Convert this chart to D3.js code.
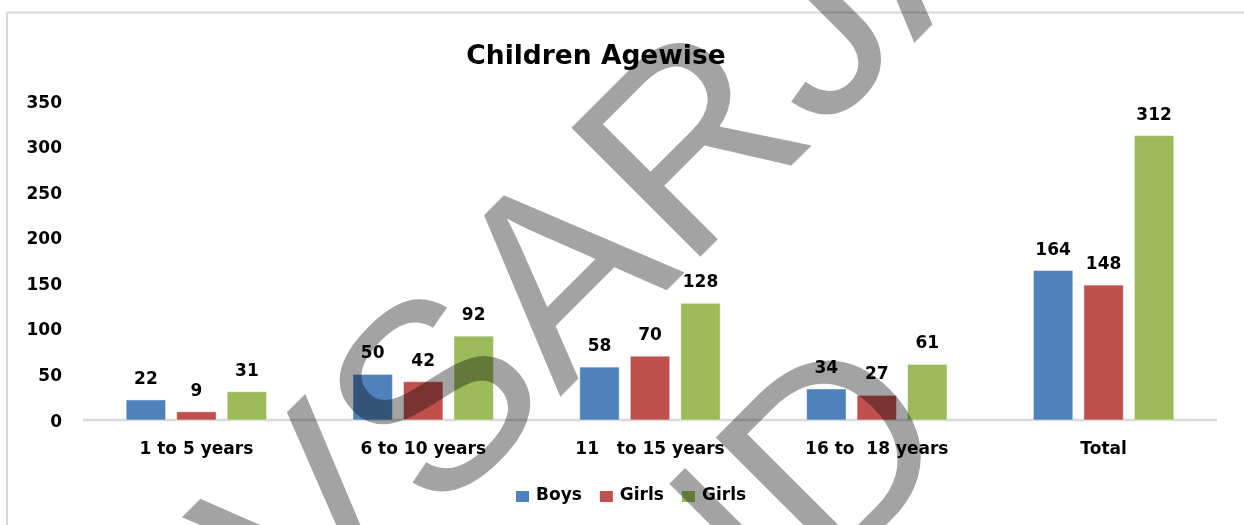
<!DOCTYPE html>
<html>
<head>
<meta charset="utf-8">
<script src="https://cdn.jsdelivr.net/npm/d3@7"></script>
<style>
  html, body { margin: 0; padding: 0; background: #fff; }
  svg text { font-family: "DejaVu Sans", sans-serif; font-weight: bold; fill: #000; white-space: pre; }
  .wm { font-family: "Liberation Sans", Arial, sans-serif; font-weight: normal; fill: #a3a3a3; mix-blend-mode: multiply; font-kerning: none; }
</style>
</head>
<body>
<div id="chart"></div>
<script>
// data
var categories = ["1 to 5 years", "6 to 10 years", "11   to 15 years", "16 to  18 years", "Total"];
var seriesNames = ["Boys", "Girls", "Girls"];
var boys = [22, 50, 58, 34, 164];
var girls = [9, 42, 70, 27, 148];
var third = [31, 92, 128, 61, 312]; // legend calls this one "Girls" too
var yTicks = [0, 50, 100, 150, 200, 250, 300, 350];
var colors = ["#4f81bd", "#c0504d", "#9bbb59"];
var title = "Children Agewise";
var watermark = ["VSARJA", "AND"];

//configuration
var config = {};
config.width = 1244;
config.height = 525;
config.left = 83;
config.right = 1217;
config.top = 101;
config.bottom = 420;
config.groupWidth = 151.5;

var svg = d3.select("#chart").append("svg")
    .attr("width", config.width)
    .attr("height", config.height);

//frame
svg.append("rect")
    .attr("x", 7).attr("y", 12.5)
    .attr("width", 1300).attr("height", 600)
    .attr("fill", "none")
    .attr("stroke", "#d9d9d9")
    .attr("stroke-width", 2);

//title
svg.append("text")
    .attr("x", 596).attr("y", 64)
    .attr("text-anchor", "middle")
    .style("font-size", "26.5px")
    .text(title);

//scales
var x0 = d3.scaleBand()
    .domain(categories)
    .range([config.left, config.right])
    .padding(0);

var x1 = d3.scaleBand()
    .domain([0, 1, 2])
    .range([(x0.bandwidth() - config.groupWidth) / 2, (x0.bandwidth() + config.groupWidth) / 2])
    .paddingInner(0.22)
    .paddingOuter(0.11);

var y = d3.scaleLinear()
    .domain([0, 350])
    .range([config.bottom, config.top]);

//y axis labels only
var yAxis = svg.append("g")
    .attr("transform", "translate(62,0)")
    .call(d3.axisLeft(y).tickValues(yTicks).tickSize(0).tickPadding(0));
yAxis.select(".domain").remove();
yAxis.selectAll("text")
    .attr("dy", "0.36em")
    .style("font-size", "17px")
    .style("font-family", null)
    .attr("fill", "#000");

//baseline
svg.append("line")
    .attr("x1", config.left).attr("x2", config.right)
    .attr("y1", y(0)).attr("y2", y(0))
    .attr("stroke", "#d9d9d9")
    .attr("stroke-width", 2.5);

//bars
var series = [boys, girls, third];
var groups = svg.selectAll("g.cat")
    .data(categories)
    .enter().append("g")
    .attr("class", "cat")
    .attr("transform", function(d){ return "translate(" + x0(d) + ",0)"; });

groups.each(function(cat, ci){
    var g = d3.select(this);
    var vals = series.map(function(s, si){ return {i: si, v: s[ci]}; });
    g.selectAll("rect")
        .data(vals)
        .enter().append("rect")
        .attr("x", function(d){ return x1(d.i); })
        .attr("y", function(d){ return y(d.v); })
        .attr("width", x1.bandwidth())
        .attr("height", function(d){ return y(0) - y(d.v); })
        .attr("fill", function(d){ return colors[d.i]; })
        .attr("stroke", "rgba(255,255,255,0.45)")
        .attr("stroke-width", 1);
    g.selectAll("text.val")
        .data(vals)
        .enter().append("text")
        .attr("class", "val")
        .attr("x", function(d){ return x1(d.i) + x1.bandwidth() / 2; })
        .attr("y", function(d){ return y(d.v) - 16; })
        .attr("text-anchor", "middle")
        .style("font-size", "17px")
        .text(function(d){ return d.v; });
});

//category labels
svg.selectAll("text.cat")
    .data(categories)
    .enter().append("text")
    .attr("class", "cat")
    .attr("x", function(d){ return x0(d) + x0.bandwidth() / 2; })
    .attr("y", 454)
    .attr("text-anchor", "middle")
    .style("font-size", "17px")
    .text(function(d){ return d; });

//legend
var legend = svg.append("g").attr("transform", "translate(516,0)");
var lx = 0;
seriesNames.forEach(function(name, i){
    legend.append("rect")
        .attr("x", lx).attr("y", 491)
        .attr("width", 13).attr("height", 11)
        .attr("fill", colors[i]);
    var t = legend.append("text")
        .attr("x", lx + 20).attr("y", 500)
        .style("font-size", "17px")
        .text(name);
    lx += 20 + t.node().getComputedTextLength() + 18;
});

//watermark on top, multiplied over the chart
var wm = svg.append("g").attr("class", "watermark");
var wmPos = [[310, 647], [569, 842]];
watermark.forEach(function(line, i){
    wm.append("text")
        .attr("class", "wm")
        .attr("transform", "translate(" + wmPos[i][0] + "," + wmPos[i][1] + ") rotate(-45)")
        .style("font-size", "265px")
        .text(line);
});
</script>
</body>
</html>
